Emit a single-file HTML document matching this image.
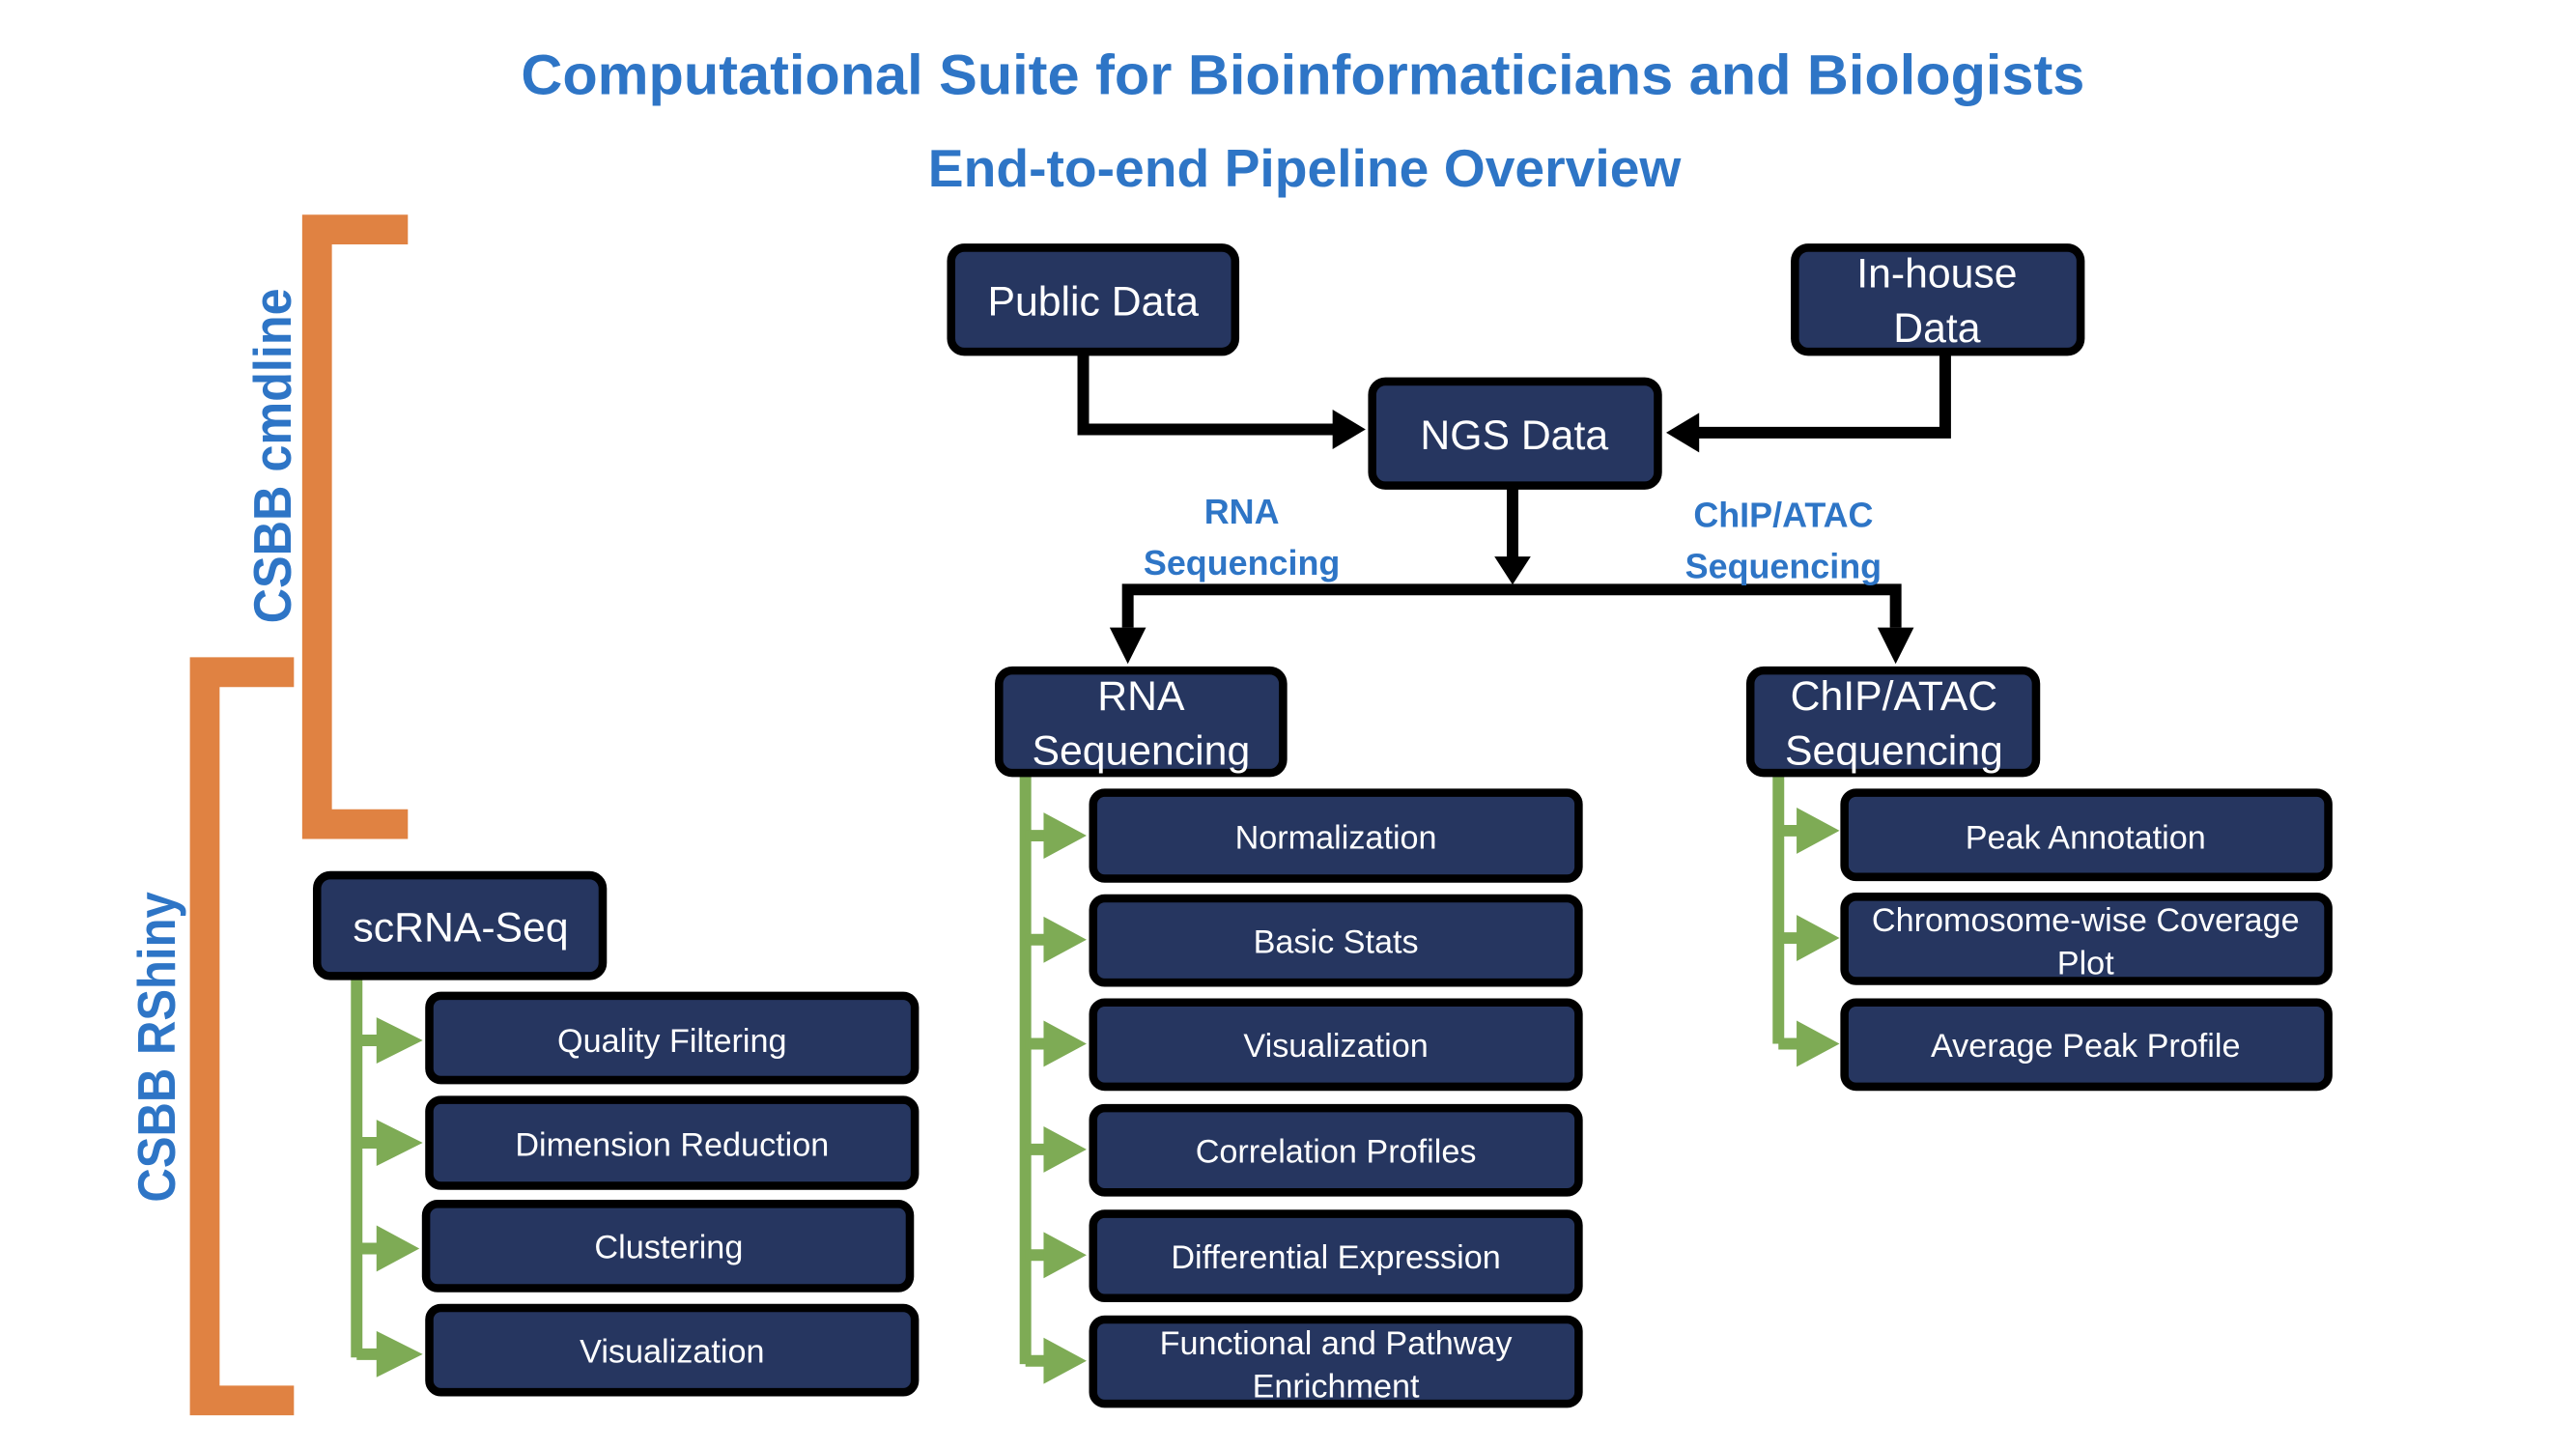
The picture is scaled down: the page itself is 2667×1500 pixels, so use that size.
<!DOCTYPE html>
<html><head><meta charset="utf-8"><style>html,body{margin:0;padding:0;background:#fff}svg{display:block}</style></head>
<body>
<svg width="2667" height="1500" viewBox="0 0 1560 877.4" preserveAspectRatio="none" xmlns="http://www.w3.org/2000/svg" font-family="Liberation Sans, sans-serif">
<rect width="1560" height="877.4" fill="#fff"/>
<!-- titles -->
<text x="789" y="57" text-anchor="middle" font-size="34" font-weight="bold" fill="#2E75C6" textLength="947" lengthAdjust="spacingAndGlyphs">Computational Suite for Bioinformaticians and Biologists</text>
<text x="790" y="113" text-anchor="middle" font-size="32" font-weight="bold" fill="#2E75C6" textLength="456" lengthAdjust="spacingAndGlyphs">End-to-end Pipeline Overview</text>

<!-- orange brackets -->
<path d="M247,139 L192,139 L192,499 L247,499" fill="none" stroke="#E08242" stroke-width="18"/>
<path d="M178,407 L124,407 L124,848 L178,848" fill="none" stroke="#E08242" stroke-width="18"/>
<text transform="translate(176,276) rotate(-90)" text-anchor="middle" font-size="32" font-weight="bold" fill="#2E75C6" textLength="203" lengthAdjust="spacingAndGlyphs">CSBB cmdline</text>
<text transform="translate(106,634) rotate(-90)" text-anchor="middle" font-size="32" font-weight="bold" fill="#2E75C6" textLength="188" lengthAdjust="spacingAndGlyphs">CSBB RShiny</text>

<!-- black connectors -->
<g fill="none" stroke="#000" stroke-width="7">
<path d="M656,215 L656,260 L810,260"/>
<path d="M1178,215 L1178,262 L1026,262"/>
<path d="M916,296 L916,340"/>
<path d="M683,380 L683,357 L1148,357 L1148,380"/>
</g>
<g fill="#000">
<polygon points="807,248 827,260 807,272"/>
<polygon points="1029,250 1009,262 1029,274"/>
<polygon points="905,337 916,354 927,337"/>
<polygon points="672,380 683,402 694,380"/>
<polygon points="1137,380 1148,402 1159,380"/>
</g>
<g font-size="21" font-weight="bold" fill="#2E75C6" text-anchor="middle">
<text x="752" y="317">RNA</text>
<text x="752" y="348">Sequencing</text>
<text x="1080" y="319">ChIP/ATAC</text>
<text x="1080" y="350">Sequencing</text>
</g>

<!-- green connectors -->
<g stroke="#7EAB55" stroke-width="7" fill="none">
<path d="M621,470 L621,826"/>
<path d="M216,593 L216,822"/>
<path d="M1077,470 L1077,632"/>
<path d="M621,506 H636 M621,569 H636 M621,632 H636 M621,696 H636 M621,760 H636 M621,824 H636"/>
<path d="M216,630 H232 M216,692 H232 M216,756 H232 M216,820 H232"/>
<path d="M1077,503 H1092 M1077,568 H1092 M1077,632 H1092"/>
</g>
<g fill="#7EAB55">
<polygon points="632,492 658,506 632,520"/><polygon points="632,555 658,569 632,583"/><polygon points="632,618 658,632 632,646"/>
<polygon points="632,682 658,696 632,710"/><polygon points="632,746 658,760 632,774"/><polygon points="632,810 658,824 632,838"/>
<polygon points="228,616 256,630 228,644"/><polygon points="228,678 256,692 228,706"/><polygon points="228,742 254,756 228,770"/><polygon points="228,806 256,820 228,834"/>
<polygon points="1088,489 1114,503 1088,517"/><polygon points="1088,554 1114,568 1088,582"/><polygon points="1088,618 1114,632 1088,646"/>
</g>

<!-- boxes -->
<g fill="#263660" stroke="#000" stroke-width="5">
<rect x="576" y="150" width="172" height="63" rx="8"/>
<rect x="1087" y="150" width="173" height="63" rx="8"/>
<rect x="831" y="231" width="173" height="63" rx="8"/>
<rect x="605" y="406" width="172" height="62" rx="8"/>
<rect x="1060" y="406" width="173" height="62" rx="8"/>
<rect x="192" y="530" width="173" height="61" rx="8"/>
<rect x="662" y="480" width="294" height="52" rx="7"/>
<rect x="662" y="544" width="294" height="51" rx="7"/>
<rect x="662" y="607" width="294" height="51" rx="7"/>
<rect x="662" y="671" width="294" height="51" rx="7"/>
<rect x="662" y="735" width="294" height="51" rx="7"/>
<rect x="662" y="799" width="294" height="51" rx="7"/>
<rect x="1117" y="480" width="293" height="51" rx="7"/>
<rect x="1117" y="543" width="293" height="51" rx="7"/>
<rect x="1117" y="607" width="293" height="51" rx="7"/>
<rect x="260" y="603" width="294" height="51" rx="7"/>
<rect x="260" y="666" width="294" height="52" rx="7"/>
<rect x="258" y="729" width="293" height="51" rx="7"/>
<rect x="260" y="792" width="294" height="51" rx="7"/>
</g>
<g fill="#fff" text-anchor="middle" font-size="25">
<text x="662" y="191">Public Data</text>
<text x="1173" y="174">In-house</text>
<text x="1173" y="207">Data</text>
<text x="917" y="272">NGS Data</text>
<text x="691" y="430">RNA</text>
<text x="691" y="463">Sequencing</text>
<text x="1147" y="430">ChIP/ATAC</text>
<text x="1147" y="463">Sequencing</text>
<text x="279" y="570">scRNA-Seq</text>
</g>
<g fill="#fff" text-anchor="middle" font-size="20">
<text x="809" y="514">Normalization</text>
<text x="809" y="577">Basic Stats</text>
<text x="809" y="640">Visualization</text>
<text x="809" y="704">Correlation Profiles</text>
<text x="809" y="768">Differential Expression</text>
<text x="809" y="820">Functional and Pathway</text>
<text x="809" y="846">Enrichment</text>
<text x="1263" y="514">Peak Annotation</text>
<text x="1263" y="564">Chromosome-wise Coverage</text>
<text x="1263" y="590">Plot</text>
<text x="1263" y="640">Average Peak Profile</text>
<text x="407" y="637">Quality Filtering</text>
<text x="407" y="700">Dimension Reduction</text>
<text x="405" y="762">Clustering</text>
<text x="407" y="825">Visualization</text>
</g>
</svg>
</body></html>
